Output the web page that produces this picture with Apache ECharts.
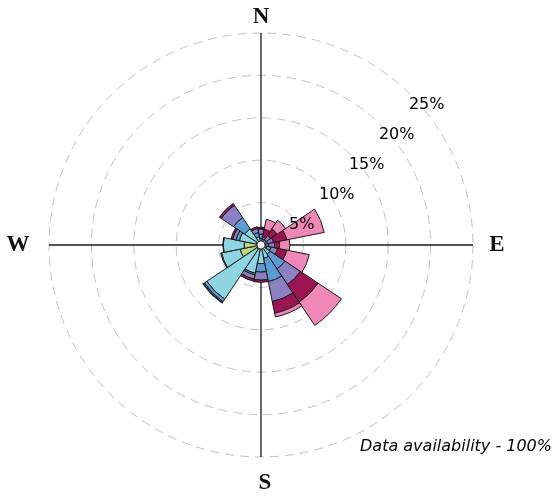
<!DOCTYPE html>
<html><head><meta charset="utf-8">
<script src="https://cdn.jsdelivr.net/npm/echarts@6/dist/echarts.min.js"></script>
<style>html,body{margin:0;padding:0;background:#fff}#c{width:555px;height:496px}</style>
</head><body><div id="c"></div>
<script>
// Wind directions (16 sectors, clockwise from north)
const directions = ['N','NNE','NE','ENE','E','ESE','SE','SSE','S','SSW','SW','WSW','W','WNW','NW','NNW'];
// Wind-speed bins (stacked from centre outward)
const speedBins = ['0 to 2','2 to 4','4 to 6','6 to 8','8 to 10','10 or more'];
// Frequency (%) contributed by each speed bin, per direction
const bin1 = [0.3, 0.2, 0.2, 0.2, 0.2, 0.3, 0.4, 0.4, 0.4, 0.5, 0.6, 2.5, 2.0, 0.6, 0.5, 0.4];
const bin2 = [0.5, 0.25,0.25,0.25,0.3, 0.4, 0.9, 1.2, 1.8, 2.9, 7.1, 2.25,2.45,2.0, 1.8, 0.6];
const bin3 = [0.5, 0.25,0.3, 0.35,0.4, 0.5, 2.1, 2.8, 1.0, 0.2, 0.35,0.1, 0.05,0.4, 1.6, 0.5];
const bin4 = [0.6, 0.25,0.6, 0.7, 0.7, 0.8, 2.2, 2.4, 0.95,0.5, 0.15,0,   0,   0.4, 1.75,0.5];
const bin5 = [0.15,0.95,0.95,1.6, 0.6, 1.1, 2.5, 1.4, 0.25,0.25,0.05,0,   0,   0.2, 0.25,0.2];
const bin6 = [0.05,1.2, 1.2, 4.5, 1.2, 2.7, 3.3, 0.45,0,   0,   0,   0,   0,   0,   0,   0  ];
const binValues = [bin1, bin2, bin3, bin4, bin5, bin6];
// Grid circles and their labels
const gridTicks = [5, 10, 15, 20, 25];
const gridLabels = ['5%', '10%', '15%', '20%', '25%'];
const compassLabels = ['N', 'E', 'S', 'W'];
const footnote = 'Data availability - 100%';

const colors = ['#bdd97a', '#8fd4e1', '#5d9bd4', '#8a80c2', '#9b1552', '#ef87b7'];
const CX = 261, CY = 245, R = 212, RMAX = 25;

const chart = echarts.init(document.getElementById('c'), null, {renderer: 'canvas'});

const series = speedBins.map((name, i) => ({
  name: name,
  type: 'bar',
  coordinateSystem: 'polar',
  stack: 'wind',
  // empty bins are left out so they do not redraw an outline
  data: binValues[i].map(v => (v === 0 ? '-' : v)),
  barCategoryGap: '0%',
  itemStyle: { color: colors[i], borderColor: '#1a1a1a', borderWidth: 1 },
  emphasis: { disabled: true },
  animation: false
}));

const graphics = [];
// compass cross lines
graphics.push({ type: 'line', z: 1, shape: { x1: CX, y1: CY - R, x2: CX, y2: CY + R }, style: { stroke: '#1a1a1a', lineWidth: 1.3 } });
graphics.push({ type: 'line', z: 1, shape: { x1: CX - R, y1: CY, x2: CX + R, y2: CY }, style: { stroke: '#1a1a1a', lineWidth: 1.3 } });
// centre hole
graphics.push({ type: 'circle', z: 100, shape: { cx: CX, cy: CY, r: 4 }, style: { fill: '#fff', stroke: '#222', lineWidth: 0.8 } });
// percentage labels at 45 degrees
gridTicks.forEach((t, i) => {
  const r = t / RMAX * R;
  graphics.push({ type: 'text', z: 100, style: {
    text: gridLabels[i], x: CX + r * Math.SQRT1_2 - 2, y: CY - r * Math.SQRT1_2 + 2,
    font: '16px "DejaVu Sans"', fill: '#000', align: 'left', verticalAlign: 'top' } });
});
// compass letters
const compassPos = { N: [CX, 17.5], E: [497, 245], S: [265, 483], W: [18, 245] };
compassLabels.forEach(l => {
  graphics.push({ type: 'text', z: 100, style: {
    text: l, x: compassPos[l][0], y: compassPos[l][1],
    font: 'bold 23px "Liberation Serif"', fill: '#111', align: 'center', verticalAlign: 'middle' } });
});
graphics.push({ type: 'text', z: 100, style: {
  text: footnote, x: 552, y: 447, font: 'italic 16px "DejaVu Sans"', fill: '#000', align: 'right', verticalAlign: 'middle' } });

chart.setOption({
  animation: false,
  backgroundColor: '#fff',
  polar: { center: [CX, CY], radius: [0, R] },
  angleAxis: {
    type: 'category', data: directions, startAngle: 90 + 11.25, clockwise: true,
    boundaryGap: true,
    axisLine: { show: false }, axisTick: { show: false }, axisLabel: { show: false },
    splitLine: { show: false }, splitArea: { show: false }
  },
  radiusAxis: {
    type: 'value', min: 0, max: RMAX, interval: 5,
    axisLine: { show: false }, axisTick: { show: false }, axisLabel: { show: false },
    splitLine: { show: true, lineStyle: { color: '#c2c2c2', width: 1, type: [9, 6] } },
    z: 0
  },
  series: series,
  graphic: { elements: graphics }
});
</script>
</body></html>
